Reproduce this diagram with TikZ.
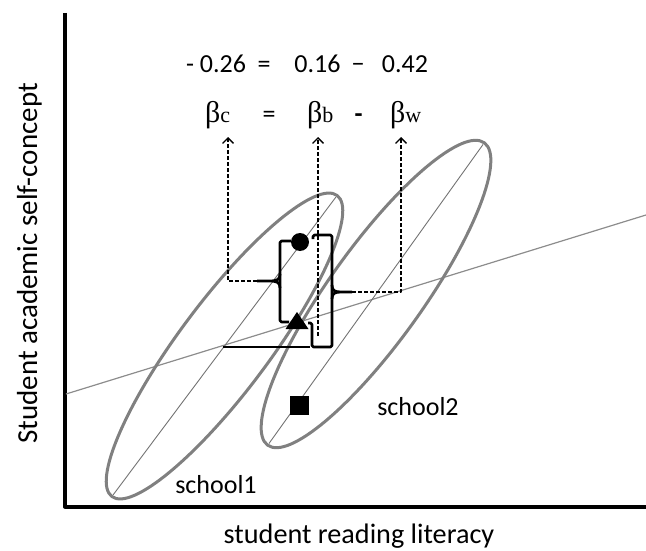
\documentclass[tikz,border=0pt]{standalone}
\usepackage{fontspec}
\setmainfont{Carlito}
\newfontfamily\symfont{Liberation Serif}
\usetikzlibrary{arrows.meta,positioning,calc}

% beta with its small letter
\newcommand{\bcoef}[1]{{\fontsize{30}{32}\selectfont\symfont β}{\fontsize{22}{24}\selectfont\symfont #1}}

\begin{document}
\begin{tikzpicture}[x=1pt, y=-1pt, >={Straight Barb[length=5.5pt,width=11pt]}, line join=round]
    % Estilos
    \tikzstyle{axis} = [line width=4pt, black]
    \tikzstyle{oval} = [line width=3pt, black!50]
    \tikzstyle{major} = [line width=0.9pt, black!55]
    \tikzstyle{fitline} = [line width=1.2pt, black!45]
    \tikzstyle{bracket} = [line width=2.7pt, black, rounded corners=1.5pt]
    \tikzstyle{guide} = [dash pattern=on 4pt off 2pt, line width=1.3pt, ->]
    \tikzstyle{num} = [inner sep=0pt, anchor=base, font=\fontsize{26}{30}\selectfont]
    \tikzstyle{coef} = [inner sep=0pt, anchor=base west]
    \tikzstyle{tag} = [inner sep=0pt, font=\fontsize{26}{30}\selectfont]

    \useasboundingbox (0,0) rectangle (646,551);

    % --- Ejes ---
    \draw[axis] (65,13) -- (65,506.5) -- (646,506.5);
    \node[inner sep=0pt, anchor=base, rotate=90, font=\fontsize{29}{32}\selectfont] (ylab) at (37,263.5) {Student academic self-concept};
    \node[inner sep=0pt, anchor=base, font=\fontsize{28.2}{30}\selectfont] (xlab) at (359,543) {student reading literacy};

    % --- Recta global ---
    \draw[fitline] (66,394) -- (646,215);

    % --- Escuelas ---
    \begin{scope}[shift={(224.5,346)}, rotate=53.2]
        \draw[oval] (0,0) ellipse [x radius=188, y radius=45];
        \draw[major] (-186,0) -- (186,0);
    \end{scope}
    \begin{scope}[shift={(376,294)}, rotate=54.4]
        \draw[oval] (0,0) ellipse [x radius=186, y radius=47];
        \draw[major] (-184,0) -- (184,0);
    \end{scope}
    \node[tag] (school1) at (216,485) {school1};
    \node[tag] (school2) at (418,407) {school2};

    % --- Medias ---
    \node[circle, fill=black, inner sep=0pt, minimum size=18pt] (mean1) at (300,242) {};
    \fill (297,312) -- (308.5,329) -- (285.5,329) -- cycle;
    \node[rectangle, fill=black, inner sep=0pt, minimum size=19pt] (mean2) at (299.5,405) {};

    % --- Llaves ---
    \draw[bracket] (291,241) -- (280,241) -- (280,322) -- (289,322);
    \draw[bracket, rounded corners=0pt] (280,274) .. controls (280,280) and (277,281) .. (268,281) -- (257,281)
        (280,288) .. controls (280,282) and (277,281) .. (268,281);
    \draw[bracket] (308,323) -- (312,323) -- (312,347) -- (332,347) -- (332,235) -- (313,235) -- (313,239);
    \draw[bracket, rounded corners=0pt] (332,285) .. controls (332,291) and (335,292) .. (342,292) -- (352,292)
        (332,299) .. controls (332,293) and (335,292) .. (342,292);
    \draw[line width=1.2pt] (223,347) -- (310,347);

    % --- Ecuaciones ---
    \node[num] (vc) at (216,73) {- 0.26};
    \node[num] (veq) at (264,73) {=};
    \node[num] (vb) at (317.5,73) {0.16};
    \node[num] (vminus) at (358,73) {−};
    \node[num] (vw) at (405,73) {0.42};

    \node[coef] (bc) at (205,122) {\bcoef{c}};
    \node[num] (beq) at (269,122) {=};
    \node[coef] (bb) at (307,122) {\bcoef{b}};
    \node[num, font=\fontsize{26}{30}\selectfont\bfseries] (bminus) at (358.5,122) {-};
    \node[coef] (bw) at (390,122) {\bcoef{w}};

    % --- Flechas ---
    \coordinate (tipc) at (257,281);
    \coordinate (headc) at (228,137);
    \coordinate (tipb) at (318,336);
    \coordinate (headb) at (318,137);
    \coordinate (tipw) at (352,292);
    \coordinate (headw) at (401,137);
    \draw[guide] (tipc) -| (headc);
    \draw[guide] (tipb) -- (headb);
    \draw[guide] (tipw) -| (headw);
\end{tikzpicture}
\end{document}
